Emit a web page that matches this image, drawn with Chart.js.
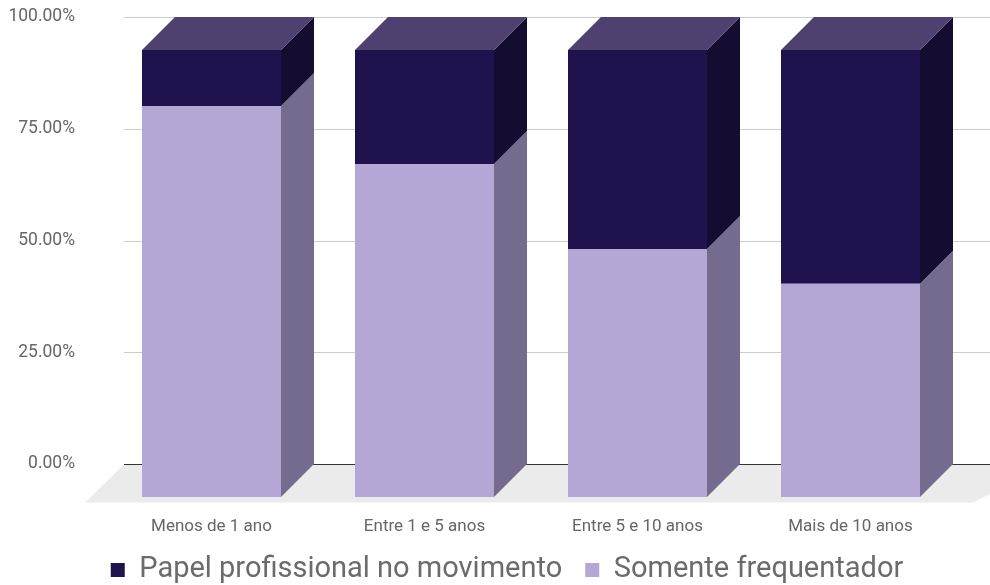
<!DOCTYPE html>
<html>
<head>
<meta charset="utf-8">
<title>Tempo no movimento</title>
<script src="https://cdn.jsdelivr.net/npm/chart.js@4/dist/chart.umd.min.js"></script>
<style>
  html, body { margin: 0; padding: 0; background: #fff; }
  #wrap { width: 990px; height: 585px; position: relative; }
</style>
</head>
<body>
<div id="wrap"><canvas id="chart"></canvas></div>
<script>
// categorias e percentuais (empilhados até 100%)
const categorias = ['Menos de 1 ano', 'Entre 1 e 5 anos', 'Entre 5 e 10 anos', 'Mais de 10 anos'];
const somenteFrequentador = [87.5, 74.5, 55.5, 47.7];
const papelProfissional = [12.5, 25.5, 44.5, 52.3];
const marcasEixoY = [0, 25, 50, 75, 100];

// cores: frente, lateral e topo de cada série
const corClara = '#b4a7d6';
const corClaraLado = '#756b8e';
const corEscura = '#20124d';
const corEscuraLado = '#150d31';
const corEscuraTopo = '#4e416f';

// profundidade do efeito 3D
const PROF_X = 33;
const PROF_Y = 33;

function poligono(ctx, pts, cor) {
    ctx.fillStyle = cor;
    ctx.beginPath();
    ctx.moveTo(pts[0][0], pts[0][1]);
    for (let i = 1; i < pts.length; i++) ctx.lineTo(pts[i][0], pts[i][1]);
    ctx.closePath();
    ctx.fill();
}

// piso, linhas de grade no plano de fundo e faces laterais das barras
const fundo3d = {
    id: 'fundo3d',
    afterLayout(chart) {
        // legenda centrada um pouco à direita
        chart.legend.left += 57;
    },
    beforeDatasetsDraw(chart) {
        const { ctx, chartArea, scales: { y } } = chart;
        const esq = chartArea.left + 19;
        const dir = chart.width;
        const zero = Math.round(y.getPixelForValue(0) - PROF_Y) + 0.5;
        ctx.save();
        poligono(ctx, [
            [esq, zero], [dir + 60, zero],
            [chartArea.right + 16, zero + 38], [chartArea.left - 20, zero + 38]
        ], '#ebebeb');
        ctx.lineWidth = 1;
        marcasEixoY.forEach(v => {
            const py = Math.round(y.getPixelForValue(v) - PROF_Y) + 0.5;
            ctx.strokeStyle = v === 0 ? '#333333' : '#cccccc';
            ctx.beginPath();
            ctx.moveTo(esq, py);
            ctx.lineTo(dir, py);
            ctx.stroke();
        });
        ctx.restore();
    },
    afterDatasetsDraw(chart) {
        const { ctx } = chart;
        const lados = [corClaraLado, corEscuraLado];
        const ultimo = chart.data.datasets.length - 1;
        ctx.save();
        chart.data.datasets.forEach((ds, i) => {
            const meta = chart.getDatasetMeta(i);
            meta.data.forEach(barra => {
                const { x, y, base, width } = barra.getProps(['x', 'y', 'base', 'width'], true);
                const l = x - width / 2;
                const r = x + width / 2;
                // face lateral
                poligono(ctx, [[r, y], [r + PROF_X, y - PROF_Y], [r + PROF_X, base - PROF_Y], [r, base]], lados[i]);
                // tampa da pilha
                if (i === ultimo) {
                    poligono(ctx, [[l, y], [r, y], [r + PROF_X, y - PROF_Y], [l + PROF_X, y - PROF_Y]], corEscuraTopo);
                }
            });
        });
        ctx.restore();
    }
};

Chart.defaults.font.family = 'Roboto';
Chart.defaults.color = '#666666';

new Chart(document.getElementById('chart'), {
    type: 'bar',
    data: {
        labels: categorias,
        datasets: [
            {
                label: 'Somente frequentador',
                data: somenteFrequentador,
                backgroundColor: corClara,
                borderWidth: 0
            },
            {
                label: 'Papel profissional no movimento',
                data: papelProfissional,
                backgroundColor: corEscura,
                borderWidth: 0
            }
        ]
    },
    options: {
        responsive: true,
        maintainAspectRatio: false,
        animation: false,
        categoryPercentage: 1,
        barPercentage: 0.6526,
        layout: { padding: { left: 0, right: 33, top: 50, bottom: -9.5 } },
        scales: {
            x: {
                stacked: true,
                grid: { display: false },
                border: { display: false },
                ticks: { font: { size: 17 }, padding: 12, maxRotation: 0, autoSkip: false },
                afterFit: s => { s.height = 35.5; }
            },
            y: {
                stacked: true,
                min: 0,
                max: 100,
                afterBuildTicks: s => { s.ticks = marcasEixoY.map(v => ({ value: v })); },
                grid: { display: false },
                border: { display: false },
                ticks: {
                    font: { size: 17.5 },
                    padding: 22,
                    labelOffset: -PROF_Y,
                    callback: v => Number(v).toFixed(2) + '%'
                },
                afterFit: s => { s.width = 105; }
            }
        },
        plugins: {
            legend: {
                position: 'bottom',
                reverse: true,
                labels: {
                    boxWidth: 14,
                    boxHeight: 14,
                    padding: 23,
                    color: '#6b6b6b',
                    font: { size: 29 }
                }
            },
            tooltip: { enabled: false }
        }
    },
    plugins: [fundo3d]
});
</script>
</body>
</html>
